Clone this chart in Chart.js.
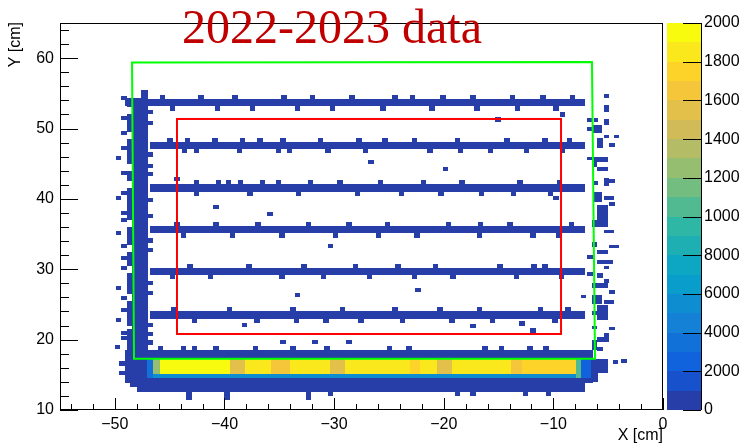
<!DOCTYPE html>
<html>
<head>
<meta charset="utf-8">
<script src="https://cdn.jsdelivr.net/npm/chart.js@4.4.1/dist/chart.umd.min.js"></script>
<style>html,body{margin:0;padding:0;background:#fff}</style>
</head>
<body>
<canvas id="hist" width="743" height="444"></canvas>
<script>
// axis ranges
const xMin = -55, xMax = 0, yMin = 10, yMax = 65, zMax = 20500;
const zTickLabels = ['0', '2000', '4000', '6000', '8000', '1000', '1200', '1400', '1600', '1800', '2000'];

// cell size for single bins (cm)
const CW = 0.5, CH = 0.6;

// the six horizontal bars
const stripeX0 = [-49.1, -46.8, -46.8, -46.8, -46.8, -46.8];
const stripeX1 = [-7.1, -7.1, -7.1, -7.1, -7.1, -7.1];
const stripeY0 = [53.15, 47.1, 41.05, 35.1, 29.2, 23.0];
const stripeY1 = [54.15, 48.1, 42.05, 36.1, 30.2, 24.0];
const bumpsAbove = [
  [-45.9, -42.4, -39.3, -34.8, -32.2, -28.6, -24.7, -23.1, -20.3, -17.6, -14.0, -11.2, -8.5],
  [-45.2, -43.6, -41.1, -38.6, -37.0, -34.9, -31.5, -28.0, -25.6, -22.9, -19.0, -14.5, -11.0, -8.8],
  [-42.8, -40.8, -39.9, -38.8, -36.8, -35.3, -32.4, -29.7, -26.0, -22.1, -18.6, -13.3, -9.7],
  [-44.6, -41.0, -37.2, -32.6, -28.9, -25.4, -19.8, -16.9, -14.2, -8.6],
  [-43.4, -38.0, -33.0, -28.3, -24.4, -21.0, -15.1, -12.0, -11.0],
  [-44.9, -39.8, -34.0, -29.5, -24.7, -20.6, -17.0, -11.4, -8.9]
];
const bumpsBelow = [
  [-45.0, -40.9, -37.7, -33.6, -30.4, -25.8, -21.3, -17.2, -13.5, -10.0],
  [-43.9, -42.8, -38.9, -35.3, -34.3, -30.8, -27.4, -21.5, -18.7, -16.0, -12.7, -9.4],
  [-42.8, -37.9, -33.5, -28.1, -24.1, -20.5, -16.8, -13.9, -10.5],
  [-44.0, -39.5, -35.0, -30.1, -26.2, -22.7, -17.0, -12.1, -9.8],
  [-45.0, -41.5, -35.0, -31.2, -27.0, -22.9, -19.4, -13.6, -9.5],
  [-43.0, -37.3, -33.7, -31.0, -27.8, -24.0, -19.5, -15.8, -10.1]
];

// dense left column [x0, x1, y0, y1]
const columnRuns = [
  [-48.4, -47.0, 18.4, 54.3], [-47.6, -47.0, 54.3, 55.5],
  [-48.9, -48.4, 53.0, 54.3], [-48.9, -48.4, 49.5, 52.0], [-48.9, -48.4, 45.0, 48.5],
  [-48.9, -48.4, 42.5, 44.0], [-48.9, -48.4, 37.0, 41.5], [-48.9, -48.4, 33.5, 36.0],
  [-48.9, -48.4, 30.5, 32.5], [-48.9, -48.4, 26.5, 29.5], [-48.9, -48.4, 22.0, 25.5],
  [-48.9, -48.4, 18.4, 21.5]
];
const columnEdgeY = [52.0, 50.5, 46.0, 44.4, 43.2, 39.5, 37.3, 33.8, 32.4, 27.8, 26.3, 21.8, 20.5, 19.3];
const leftDots = [
  [-49.4, 54.0], [-49.4, 51.2], [-49.4, 49.1], [-49.4, 46.9], [-49.9, 45.5], [-49.4, 43.4],
  [-49.4, 40.5], [-49.9, 39.8], [-49.4, 37.7], [-49.4, 36.7], [-49.9, 34.8], [-49.4, 33.0],
  [-49.4, 31.3], [-49.4, 29.9], [-49.9, 27.0], [-49.4, 25.6], [-49.4, 23.9], [-49.9, 22.5],
  [-49.4, 20.6], [-49.4, 19.9], [-50.0, 18.6]
];

// sparse cells right of the bars [x0, x1, y0, y1]
const rightRuns = [
  [-5.4, -4.9, 54.3, 54.9], [-5.4, -4.9, 52.4, 53.4], [-6.9, -6.4, 51.0, 51.5], [-6.3, -5.9, 51.0, 51.5],
  [-5.4, -4.9, 50.5, 51.4], [-6.9, -6.4, 49.7, 50.2], [-6.5, -5.6, 49.3, 50.5], [-5.4, -4.9, 48.6, 49.1],
  [-4.5, -4.0, 48.6, 49.1], [-4.9, -4.4, 47.4, 47.9], [-6.0, -5.5, 47.3, 48.7], [-6.9, -6.4, 45.5, 46.0],
  [-6.4, -5.0, 45.2, 45.9], [-6.4, -6.0, 44.6, 45.2], [-6.0, -5.0, 44.0, 44.5], [-5.4, -4.9, 41.8, 43.0],
  [-4.9, -4.4, 42.2, 42.8], [-6.4, -5.9, 42.0, 42.5], [-6.4, -5.6, 39.6, 41.0], [-5.4, -4.5, 39.9, 40.4],
  [-4.9, -4.4, 39.0, 39.5], [-6.0, -5.0, 36.0, 39.1], [-6.5, -5.0, 36.0, 37.0], [-5.4, -4.5, 35.1, 35.6],
  [-6.5, -6.0, 33.1, 33.9], [-4.9, -4.0, 33.0, 33.5], [-6.0, -5.0, 32.2, 32.7], [-6.9, -6.4, 31.5, 32.0],
  [-6.0, -4.6, 30.8, 31.3], [-5.4, -4.9, 30.0, 30.5], [-6.9, -6.4, 29.1, 29.6], [-6.0, -5.5, 28.8, 29.4],
  [-5.4, -4.9, 28.1, 28.6], [-6.5, -5.0, 27.4, 28.0], [-4.9, -4.4, 26.5, 27.0], [-7.5, -7.0, 25.9, 26.4],
  [-6.5, -5.6, 25.0, 26.3], [-5.4, -4.5, 25.1, 25.6], [-6.0, -5.0, 22.8, 24.9], [-6.5, -6.0, 23.5, 24.1],
  [-4.9, -4.4, 21.3, 21.8], [-6.5, -6.0, 21.5, 22.0], [-5.4, -4.9, 19.7, 20.9], [-6.0, -5.5, 18.4, 18.9]
];

// isolated cells inside the frame
const innerDots = [
  [-44.6, 42.5], [-41.0, 38.5], [-36.1, 37.6], [-15.3, 51.0], [-9.4, 51.7], [-10.0, 39.8],
  [-13.1, 22.0], [-12.1, 21.0], [-30.6, 33.0], [-33.6, 26.0], [-22.6, 26.7], [-17.6, 21.6],
  [-38.4, 21.8], [-26.9, 45.0], [-20.1, 44.0], [-34.9, 19.4], [-32.0, 19.4], [-28.9, 19.4]
];

// blue area around the bottom band [x0, x1, y0, y1]
const baseRuns = [
  [-49.1, -6.4, 13.8, 18.5], [-48.0, -7.1, 12.6, 13.8], [-48.6, -48.0, 13.2, 13.8],
  [-6.4, -5.0, 15.2, 17.3], [-6.4, -5.9, 14.0, 15.2], [-49.6, -49.1, 16.2, 17.0], [-49.6, -49.1, 15.0, 15.5],
  [-6.5, -6.0, 18.5, 20.0], [-6.0, -5.0, 19.6, 20.4], [-4.6, -4.1, 16.6, 17.1], [-3.8, -3.3, 16.7, 17.2]
];
const baseBumpsTop = [-46.1, -44.0, -43.0, -41.0, -37.4, -34.0, -30.9, -25.2, -23.4, -16.5, -15.0, -12.4, -10.9];
const baseBumpsBottom = [-43.5, -40.0, -32.6, -30.6, -19.0, -17.6, -12.8, -10.7];
const baseDotsBelow = [[-43.5, 11.4], [-40.0, 11.4], [-32.6, 11.4]];

// intense band: columns of the core [x0, x1, z]
const coreX0 = [-45.9, -39.5, -38.1, -35.8, -34.0, -30.4, -29.0, -23.1, -22.2, -20.6, -19.2, -13.9, -12.9];
const coreX1 = [-39.5, -38.1, -35.8, -34.0, -30.4, -29.0, -23.1, -22.2, -20.6, -19.2, -13.9, -12.9, -7.9];
const coreZ = [20100, 16000, 18600, 17100, 19200, 16000, 19300, 17600, 18900, 15600, 18600, 16500, 18400];
const coreY0 = 15.1, coreY1 = 17.4;
// edges of the band [x0, x1, y0, y1, z]
const edgeRuns = [
  [-47.1, -46.5, 14.5, 17.4, 3500], [-46.5, -45.9, 15.1, 17.4, 12800], [-46.5, -7.9, 14.5, 15.1, 5200],
  [-7.9, -7.5, 14.5, 17.4, 10500], [-7.5, -6.6, 14.5, 17.4, 2600]
];
const blueZ = 500;

// analysis cuts
const greenCutX = [-48.43, -6.48, -6.2, -48.25];
const greenCutY = [59.4, 59.45, 17.3, 17.3];
const redCutX = [-44.33, -9.3];
const redCutY = [20.8, 51.36];

// ROOT kBird palette, 20 contour levels
const birdStops = [0, 0.125, 0.25, 0.375, 0.5, 0.625, 0.75, 0.875, 1];
const birdR = [0.2082, 0.0592, 0.0780, 0.0232, 0.1802, 0.5301, 0.8186, 0.9956, 0.9764];
const birdG = [0.1664, 0.3599, 0.5041, 0.6419, 0.7178, 0.7492, 0.7328, 0.7862, 0.9832];
const birdB = [0.5293, 0.8684, 0.8385, 0.7914, 0.6425, 0.4662, 0.3499, 0.1968, 0.0539];
const NLEV = 20;
function birdColor(f) {
  let k = 0;
  while (k < birdStops.length - 2 && f > birdStops[k + 1]) k++;
  const t = (f - birdStops[k]) / (birdStops[k + 1] - birdStops[k]);
  const c = arr => Math.round(255 * (arr[k] + (arr[k + 1] - arr[k]) * t));
  return `rgb(${c(birdR)},${c(birdG)},${c(birdB)})`;
}
function levelColor(i) {
  return birdColor(Math.floor((i + 0.99) * 255 / NLEV) / 254);
}
function zColor(v) {
  const i = Math.min(NLEV - 1, Math.max(0, Math.floor(v / zMax * NLEV)));
  return levelColor(i);
}

const FONT = '"Liberation Sans", Arial, sans-serif';
const minus = v => (v < 0 ? '\u2212' + Math.abs(v) : String(v));

const heatPlugin = {
  id: 'heat',
  afterDraw(chart) {
    const { ctx, chartArea: a } = chart;
    const xs = chart.scales.x, ys = chart.scales.y, zs = chart.scales.z;
    const px = v => Math.round(xs.getPixelForValue(v));
    const py = v => Math.round(ys.getPixelForValue(v));
    const box = (x0, x1, y0, y1, val) => {
      ctx.fillStyle = zColor(val);
      ctx.fillRect(px(x0), py(y1), px(x1) - px(x0), py(y0) - py(y1));
    };

    ctx.save();
    ctx.beginPath();
    ctx.rect(a.left, a.top, a.right - a.left, a.bottom - a.top);
    ctx.clip();

    // low-count cells
    baseRuns.forEach(r => box(r[0], r[1], r[2], r[3], blueZ));
    baseBumpsTop.forEach(bx => box(bx, bx + CW, 18.5, 18.5 + CH, blueZ));
    baseBumpsBottom.forEach(bx => box(bx, bx + CW, 12.6 - CH, 12.6, blueZ));
    baseDotsBelow.forEach(d => box(d[0], d[0] + CW, d[1], d[1] + CH, blueZ));
    stripeX0.forEach((x0, i) => {
      box(x0, stripeX1[i], stripeY0[i], stripeY1[i], blueZ);
      bumpsAbove[i].forEach(bx => box(bx, bx + CW, stripeY1[i], stripeY1[i] + CH, blueZ));
      bumpsBelow[i].forEach(bx => box(bx, bx + CW, stripeY0[i] - CH, stripeY0[i], blueZ));
    });
    columnRuns.forEach(r => box(r[0], r[1], r[2], r[3], blueZ));
    columnEdgeY.forEach(cy => box(-47.0, -47.0 + CW, cy, cy + CH, blueZ));
    leftDots.forEach(d => box(d[0], d[0] + CW, d[1], d[1] + CH, blueZ));
    rightRuns.forEach(r => box(r[0], r[1], r[2], r[3], blueZ));
    innerDots.forEach(d => box(d[0], d[0] + CW, d[1], d[1] + CH, blueZ));

    // the intense band
    edgeRuns.forEach(r => box(r[0], r[1], r[2], r[3], r[4]));
    coreX0.forEach((x0, i) => box(x0, coreX1[i], coreY0, coreY1, coreZ[i]));

    // cut boxes
    ctx.lineWidth = 2;
    ctx.strokeStyle = '#ff0000';
    ctx.strokeRect(xs.getPixelForValue(redCutX[0]), ys.getPixelForValue(redCutY[1]),
      xs.getPixelForValue(redCutX[1]) - xs.getPixelForValue(redCutX[0]),
      ys.getPixelForValue(redCutY[0]) - ys.getPixelForValue(redCutY[1]));
    ctx.strokeStyle = '#00ff00';
    ctx.beginPath();
    greenCutX.forEach((gx, i) => {
      const X = xs.getPixelForValue(gx), Y = ys.getPixelForValue(greenCutY[i]);
      if (i === 0) ctx.moveTo(X, Y); else ctx.lineTo(X, Y);
    });
    ctx.closePath();
    ctx.stroke();
    ctx.restore();

    // frame and ticks
    ctx.save();
    ctx.strokeStyle = '#000';
    ctx.lineWidth = 1;
    ctx.strokeRect(a.left + 0.5, a.top + 0.5, a.right - a.left - 1, a.bottom - a.top - 1);
    ctx.beginPath();
    for (let v = Math.ceil(xMin / 2) * 2; v <= xMax; v += 2) {
      const X = Math.round(xs.getPixelForValue(v)) + 0.5;
      const len = v % 10 === 0 ? 12 : 6;
      ctx.moveTo(X, a.bottom);
      ctx.lineTo(X, a.bottom - len);
    }
    for (let v = yMin; v <= yMax; v += 2) {
      const Y = Math.round(ys.getPixelForValue(v)) + 0.5;
      const len = v % 10 === 0 ? 18 : 9;
      ctx.moveTo(a.left, Y);
      ctx.lineTo(a.left + len, Y);
    }
    ctx.stroke();

    // palette with its ticks and labels
    const pl = a.right + 4, pr = a.right + 38;
    for (let i = 0; i < NLEV; i++) {
      const yb = Math.round(zs.getPixelForValue(i * zMax / NLEV));
      const yt = Math.round(zs.getPixelForValue((i + 1) * zMax / NLEV));
      ctx.fillStyle = levelColor(i);
      ctx.fillRect(pl, yt, pr - pl, yb - yt);
    }
    ctx.beginPath();
    ctx.moveTo(pr + 0.5, a.top);
    ctx.lineTo(pr + 0.5, a.bottom);
    zs.ticks.forEach(t => {
      const Y = Math.round(zs.getPixelForValue(t.value)) + 0.5;
      ctx.moveTo(pr - 18, Y);
      ctx.lineTo(pr, Y);
    });
    ctx.stroke();
    ctx.fillStyle = '#000';
    ctx.font = '16px ' + FONT;
    ctx.textAlign = 'left';
    ctx.textBaseline = 'middle';
    zs.ticks.forEach((t, i) => {
      ctx.fillText(zTickLabels[i], pr + 3, zs.getPixelForValue(t.value));
    });

    // axis titles
    ctx.textAlign = 'right';
    ctx.textBaseline = 'alphabetic';
    ctx.fillText('X [cm]', a.right, 440);
    ctx.translate(20, 22);
    ctx.rotate(-Math.PI / 2);
    ctx.fillText('Y [cm]', 0, 0);
    ctx.restore();

    ctx.save();
    ctx.font = '48px "Liberation Serif", "Times New Roman", serif';
    ctx.fillStyle = 'rgb(192,0,0)';
    ctx.textAlign = 'left';
    ctx.textBaseline = 'alphabetic';
    ctx.fillText('2022-2023 data', 182, 43);
    ctx.restore();
  }
};

new Chart(document.getElementById('hist'), {
  type: 'scatter',
  data: { datasets: [] },
  options: {
    responsive: false,
    animation: false,
    devicePixelRatio: 1,
    layout: { padding: { top: 23, left: 0, right: 0, bottom: 0 } },
    plugins: { legend: { display: false }, tooltip: { enabled: false } },
    scales: {
      x: {
        type: 'linear', min: xMin, max: xMax, position: 'bottom',
        grid: { display: false, drawTicks: false }, border: { display: false },
        ticks: { stepSize: 10, includeBounds: false, maxRotation: 0, padding: 5,
          color: '#000', font: { size: 16, family: FONT }, callback: v => minus(v) },
        afterFit: s => { s.height = 34; }
      },
      y: {
        type: 'linear', min: yMin, max: yMax, position: 'left',
        grid: { display: false, drawTicks: false }, border: { display: false },
        ticks: { stepSize: 10, includeBounds: false, padding: 6,
          color: '#000', font: { size: 16, family: FONT }, callback: v => minus(v) },
        afterFit: s => { s.width = 60; }
      },
      z: {
        type: 'linear', min: 0, max: zMax, position: 'right',
        grid: { display: false, drawTicks: false }, border: { display: false },
        ticks: { display: false, stepSize: 2000, includeBounds: false },
        afterFit: s => { s.width = 80; }
      }
    }
  },
  plugins: [heatPlugin]
});
</script>
</body>
</html>
